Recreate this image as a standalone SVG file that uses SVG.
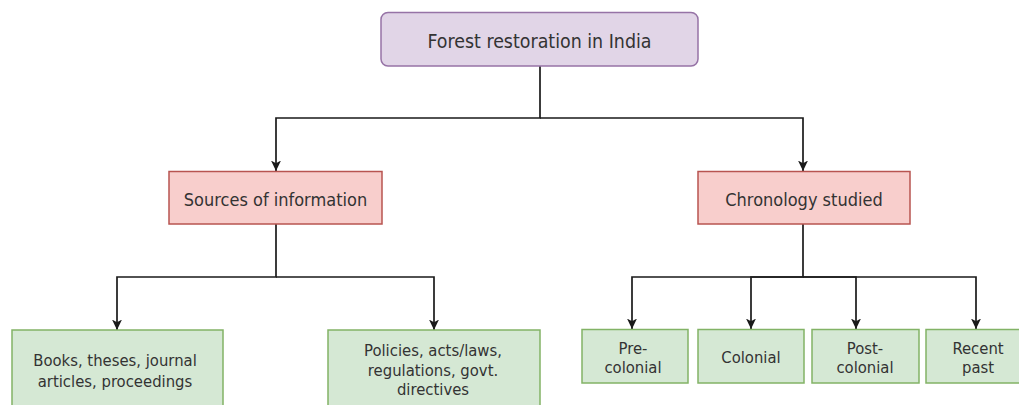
<svg xmlns="http://www.w3.org/2000/svg" width="1019" height="405" viewBox="0 0 1019 405">
<style>
text{font-family:"DejaVu Sans Condensed","DejaVu Sans",sans-serif;fill:#333333;text-anchor:middle;font-stretch:condensed}
.t1{font-size:19.4px}
.t2{font-size:18px}
.t3{font-size:16.5px}
.purple{fill:#e1d5e7;stroke:#9673a6;stroke-width:1.5}
.red{fill:#f8cecc;stroke:#b85450;stroke-width:1.5}
.green{fill:#d5e8d4;stroke:#82b366;stroke-width:1.5}
.conn path{fill:none;stroke:#1a1a1a;stroke-width:1.7;marker-end:url(#arr)}
</style>
<defs>
<marker id="arr" markerUnits="userSpaceOnUse" markerWidth="11" markerHeight="11" viewBox="0 0 11 11" refX="10.5" refY="5.5" orient="auto">
<path d="M0,0.5 L10.5,5.5 L0,10.5 L2.8,5.5 z" fill="#1a1a1a"/>
</marker>
</defs>
<rect width="1019" height="405" fill="#ffffff"/>
<g class="conn" id="connectors">
<path d="M540 66 V118 H276 V171"/>
<path d="M540 118 H803 V171"/>
<path d="M276 224 V277 H117 V330"/>
<path d="M276 277 H434 V330"/>
<path d="M803 224 V277 H632 V329"/>
<path d="M803 277 H751 V329"/>
<path d="M803 277 H856 V329"/>
<path d="M803 277 H976 V329"/>
</g>
<g id="root">
<rect class="purple" x="381" y="12.5" width="317" height="53.5" rx="7"/>
<text class="t1" x="539.5" y="48">Forest restoration in India</text>
</g>
<g id="sources">
<rect class="red" x="169" y="171.5" width="213" height="52.5"/>
<text class="t2" x="275.5" y="205.5">Sources of information</text>
</g>
<g id="chronology">
<rect class="red" x="698" y="171.5" width="212" height="52.5"/>
<text class="t2" x="804" y="205.5">Chronology studied</text>
</g>
<g id="books">
<rect class="green" x="12" y="330" width="211" height="90"/>
<text class="t3" x="115" y="366">Books, theses, journal</text>
<text class="t3" x="115" y="386.5">articles, proceedings</text>
</g>
<g id="policies">
<rect class="green" x="328" y="330" width="212" height="90"/>
<text class="t3" x="433" y="356">Policies, acts/laws,</text>
<text class="t3" x="433" y="375.5">regulations, govt.</text>
<text class="t3" x="433" y="395">directives</text>
</g>
<g id="precolonial">
<rect class="green" x="582" y="329.5" width="106" height="53.5"/>
<text class="t3" x="633" y="354">Pre-</text>
<text class="t3" x="633" y="373">colonial</text>
</g>
<g id="colonial">
<rect class="green" x="698" y="329.5" width="106" height="53.5"/>
<text class="t3" x="751" y="363">Colonial</text>
</g>
<g id="postcolonial">
<rect class="green" x="812" y="329.5" width="107" height="53.5"/>
<text class="t3" x="865" y="354">Post-</text>
<text class="t3" x="865" y="373">colonial</text>
</g>
<g id="recentpast">
<rect class="green" x="926" y="329.5" width="106" height="53.5"/>
<text class="t3" x="978" y="354">Recent</text>
<text class="t3" x="978" y="373">past</text>
</g>
</svg>
